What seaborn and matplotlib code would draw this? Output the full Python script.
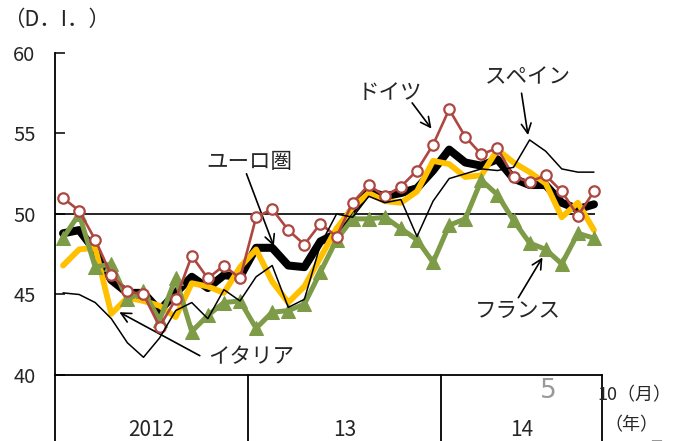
import matplotlib
matplotlib.use("Agg")
import matplotlib.pyplot as plt
import pandas as pd
import seaborn as sns

# monthly D.I., Jan 2012 .. Oct 2014
euro = [48.8, 49.0, 47.7, 45.9, 45.1, 45.1, 44.0, 45.1, 46.1, 45.4, 46.2, 46.1,
        47.9, 47.9, 46.8, 46.7, 48.3, 48.8, 50.3, 51.4, 51.1, 51.3, 51.6, 52.7,
        54.0, 53.2, 53.0, 53.4, 52.2, 51.8, 51.8, 50.7, 50.3, 50.6]
germany = [51.0, 50.2, 48.4, 46.2, 45.2, 45.0, 43.0, 44.7, 47.4, 46.0, 46.8, 46.0,
           49.8, 50.3, 49.0, 48.1, 49.4, 48.6, 50.7, 51.8, 51.1, 51.7, 52.7, 54.3,
           56.5, 54.8, 53.7, 54.1, 52.3, 52.0, 52.4, 51.4, 49.9, 51.4]
france = [48.5, 50.0, 46.7, 46.9, 44.7, 45.2, 43.4, 46.0, 42.7, 43.7, 44.5, 44.6,
          42.9, 43.9, 44.0, 44.4, 46.4, 48.4, 49.7, 49.7, 49.8, 49.1, 48.4, 47.0,
          49.3, 49.7, 52.1, 51.2, 49.6, 48.2, 47.8, 46.9, 48.8, 48.5]
italy = [46.8, 47.8, 47.9, 43.8, 44.8, 44.6, 44.3, 43.6, 45.7, 45.5, 45.1, 46.7,
         47.8, 45.8, 44.5, 45.5, 47.3, 49.1, 50.4, 51.3, 50.8, 50.7, 51.4, 53.3,
         53.1, 52.3, 52.4, 54.0, 53.2, 52.6, 51.9, 49.8, 50.7, 49.0]
spain = [45.1, 45.0, 44.5, 43.5, 42.0, 41.1, 42.3, 44.0, 44.5, 43.5, 45.3, 44.6,
         46.1, 46.8, 44.2, 44.7, 48.1, 50.0, 49.8, 51.1, 50.7, 50.9, 48.6, 50.8,
         52.2, 52.5, 52.8, 52.7, 52.9, 54.6, 53.9, 52.8, 52.6, 52.6]
year_labels = ["2012", "13", "14"]

df = pd.DataFrame({"m": range(len(euro)), "euro": euro, "germany": germany,
                   "france": france, "italy": italy, "spain": spain})

sns.set_style("white")
plt.rcParams['font.family'] = ['Noto Sans CJK JP', 'DejaVu Sans']

fig = plt.figure(figsize=(6.74, 4.41), dpi=100)
ax = fig.add_axes([55/674, 1-375/441, 547/674, 322/441])

sns.lineplot(data=df, x="m", y="euro", ax=ax, color="black", lw=5.8, zorder=2)
sns.lineplot(data=df, x="m", y="italy", ax=ax, color="#FFC000", lw=4.2, zorder=3)
sns.lineplot(data=df, x="m", y="france", ax=ax, color="#7E9B47", lw=3.6,
             marker="^", markersize=10, markeredgecolor="#7E9B47", zorder=4)
sns.lineplot(data=df, x="m", y="germany", ax=ax, color="#AE4741", lw=1.9,
             marker="o", markersize=7.5, markerfacecolor="white",
             markeredgecolor="#AE4741", markeredgewidth=1.6, zorder=5)
sns.lineplot(data=df, x="m", y="spain", ax=ax, color="black", lw=1.1, zorder=6)

ax.hlines(50, -0.5, 33.07, color="black", lw=1.2, zorder=1)
ax.set_xlim(-0.5, 33.5)
ax.set_ylim(40, 60)
ax.set_yticks([40, 45, 50, 55, 60])
ax.set_xticks([])
ax.set_xlabel("")
ax.set_ylabel("")
for s in ["top", "right"]:
    ax.spines[s].set_visible(False)
for s in ["left", "bottom"]:
    ax.spines[s].set_color("black")
    ax.spines[s].set_linewidth(1.3)
ax.tick_params(axis="y", direction="in", length=7, width=1.3, pad=14,
               labelsize=14.5, left=True)

# year box under the axis
tr = ax.get_xaxis_transform()
for xv in [-0.5, 11.5, 23.5, 33.5]:
    ax.plot([xv, xv], [0, -0.3], transform=tr, clip_on=False, color="black", lw=1.3)
for xv, lab in zip([5.5, 17.5, 28.5], year_labels):
    ax.text(xv, -0.171, lab, transform=tr, ha="center", va="center", fontsize=15)

# series labels
fs = 15.5
arrow = dict(arrowstyle="->,head_length=0.7,head_width=0.35", color="black", lw=1.2,
             shrinkA=0, shrinkB=0)
ax.text(20.3, 57.5, "ドイツ", ha="center", va="center", fontsize=fs)
ax.annotate("", xy=(22.9, 55.3), xytext=(21.7, 56.9), arrowprops=arrow)
ax.text(28.9, 58.5, "スペイン", ha="center", va="center", fontsize=fs)
ax.annotate("", xy=(28.9, 54.9), xytext=(28.5, 57.5), arrowprops=arrow)
ax.text(11.6, 53.2, "ユーロ圏", ha="center", va="center", fontsize=fs)
ax.annotate("", xy=(13.1, 48.0), xytext=(11.4, 52.5), arrowprops=arrow)
ax.text(11.7, 41.1, "イタリア", ha="center", va="center", fontsize=fs)
ax.annotate("", xy=(3.5, 43.9), xytext=(8.5, 41.2), arrowprops=arrow)
ax.text(28.3, 44.0, "フランス", ha="center", va="center", fontsize=fs)
ax.annotate("", xy=(29.8, 47.3), xytext=(28.3, 44.8), arrowprops=arrow)

fig.text(3/674, 1-20/441, "（D．I．）", ha="left", va="center", fontsize=15.5)
fig.text(597/674, 1-395/441, "10（月）", ha="left", va="center", fontsize=13)
fig.text(604/674, 1-425/441, "（年）", ha="left", va="center", fontsize=13)
fig.text(548/674, 1-391/441, "5", ha="center", va="center", fontsize=19,
         color="#999999", family="DejaVu Sans")
fig.text(657/674, 1-453/441, "5", ha="center", va="center", fontsize=19,
         color="#999999", family="DejaVu Sans")

fig.savefig("out.png", dpi=100)
